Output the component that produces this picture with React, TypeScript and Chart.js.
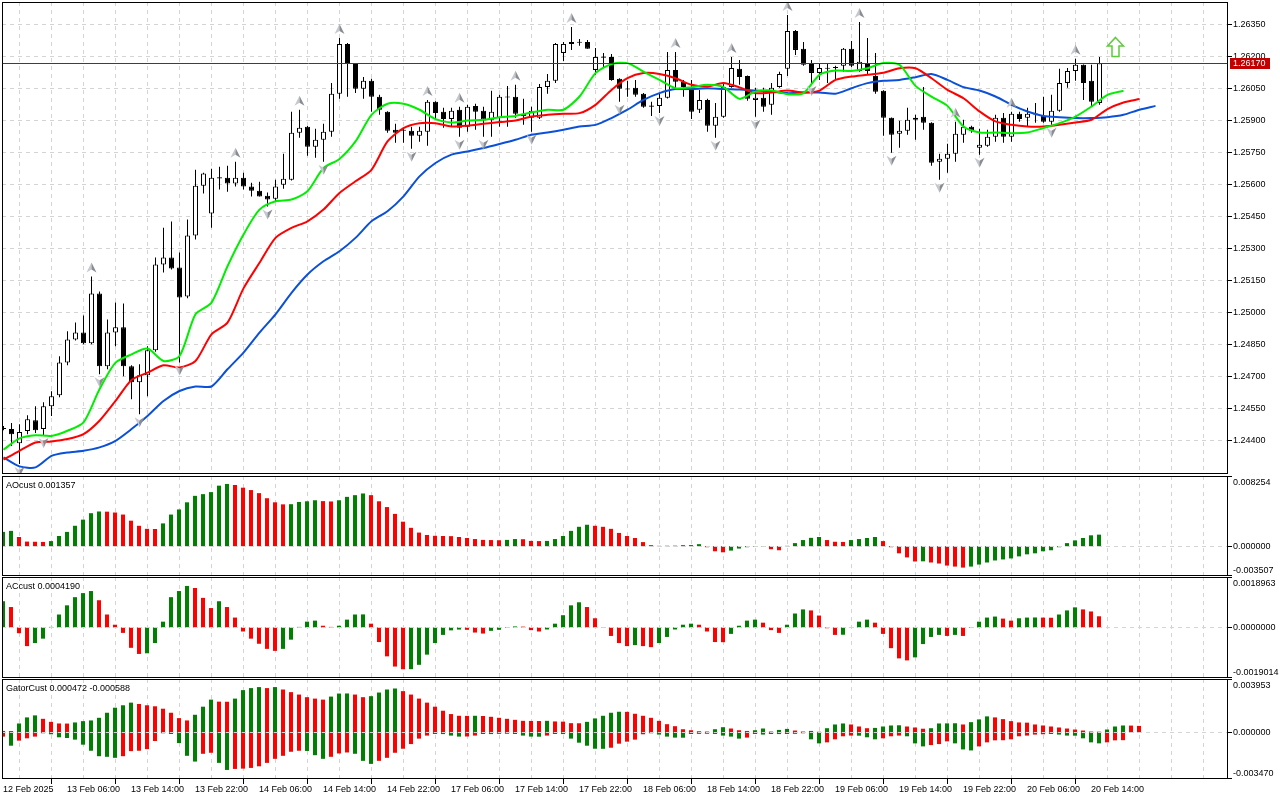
import React, { useEffect, useRef } from "react";
import { Chart, registerables } from "chart.js";

Chart.register(...registerables);

// ---------------- data ----------------
const X_LABELS = [
  "12 Feb 2025", "13 Feb 06:00", "13 Feb 14:00", "13 Feb 22:00", "14 Feb 06:00", "14 Feb 14:00",
  "14 Feb 22:00", "17 Feb 06:00", "17 Feb 14:00", "17 Feb 22:00", "18 Feb 06:00", "18 Feb 14:00",
  "18 Feb 22:00", "19 Feb 06:00", "19 Feb 14:00", "19 Feb 22:00", "20 Feb 06:00", "20 Feb 14:00",
];
const BARS_PER_LABEL = 8;

const PRICE_TICKS = [
  1.244, 1.2455, 1.247, 1.2485, 1.25, 1.2515, 1.253, 1.2545, 1.256, 1.2575, 1.259, 1.2605, 1.262, 1.2635,
];
const PRICE_MIN = 1.24241;
const PRICE_MAX = 1.26458;
const CURRENT_PRICE = 1.2617;

const OPEN = [
  1.24457, 1.24452, 1.24386, 1.24443, 1.24494, 1.24452, 1.24559, 1.24611, 1.24765, 1.24873,
  1.24906, 1.24855, 1.25089, 1.24747, 1.24906, 1.2493, 1.24747, 1.24672, 1.24705, 1.24822,
  1.25225, 1.25258, 1.25211, 1.25075, 1.25361, 1.25595, 1.25464, 1.25633, 1.25633, 1.25605,
  1.25633, 1.25591, 1.25572, 1.25548, 1.25534, 1.256, 1.25623, 1.25844, 1.25872, 1.25778,
  1.25811, 1.25848, 1.26027, 1.26261, 1.26167, 1.2605, 1.26088, 1.26013, 1.25942, 1.25858,
  1.25858, 1.25853, 1.2583, 1.25848, 1.25989, 1.25942, 1.25909, 1.25952, 1.25872, 1.2597,
  1.25947, 1.25905, 1.25914, 1.26013, 1.26013, 1.25933, 1.25914, 1.25914, 1.26059, 1.26088,
  1.26219, 1.26261, 1.2627, 1.2627, 1.26139, 1.262, 1.262, 1.26097, 1.2605, 1.26055,
  1.26027, 1.2597, 1.2597, 1.26008, 1.26139, 1.26083, 1.26059, 1.25952, 1.25998, 1.25877,
  1.25919, 1.26059, 1.26144, 1.26111, 1.25998, 1.26008, 1.25975, 1.26059, 1.26144, 1.26322,
  1.26238, 1.26167, 1.26125, 1.26148, 1.26153, 1.26158, 1.26238, 1.26134, 1.26172, 1.26111,
  1.26041, 1.25914, 1.25839, 1.25853, 1.25905, 1.25919, 1.25891, 1.25708, 1.25722, 1.25745,
  1.25834, 1.25872, 1.25773, 1.25783, 1.25825, 1.25914, 1.25825, 1.25933, 1.25914, 1.25933,
  1.25923, 1.25895, 1.25947, 1.26078, 1.26134, 1.26163, 1.26088, 1.25984,
];
const HIGH = [
  1.24466, 1.2448, 1.24475, 1.24517, 1.24559, 1.24578, 1.2463, 1.24794, 1.24911, 1.24953,
  1.24986, 1.25169, 1.25098, 1.24967, 1.25047, 1.25042, 1.24752, 1.24756, 1.24841, 1.25258,
  1.25398, 1.25427, 1.25281, 1.25436, 1.2567, 1.25656, 1.25675, 1.25684, 1.25689, 1.25708,
  1.25656, 1.25609, 1.25614, 1.25563, 1.25623, 1.25745, 1.25942, 1.25952, 1.25875, 1.25863,
  1.25886, 1.26078, 1.26289, 1.26266, 1.26172, 1.26106, 1.26097, 1.26022, 1.25945, 1.25886,
  1.25867, 1.25872, 1.25872, 1.25998, 1.25992, 1.25961, 1.25961, 1.25966, 1.25975, 1.2598,
  1.25966, 1.26041, 1.26022, 1.26064, 1.26069, 1.26003, 1.25966, 1.26073, 1.2612, 1.26266,
  1.2627, 1.26341, 1.26284, 1.2628, 1.26242, 1.26219, 1.26214, 1.261, 1.26088, 1.26092,
  1.2603, 1.25989, 1.26027, 1.26223, 1.26223, 1.26092, 1.26092, 1.26045, 1.26003, 1.25984,
  1.26078, 1.262, 1.26186, 1.26113, 1.26055, 1.26055, 1.26078, 1.2613, 1.26397, 1.26327,
  1.2627, 1.26186, 1.26172, 1.26172, 1.26158, 1.26242, 1.26275, 1.26364, 1.26289, 1.26219,
  1.26043, 1.25916, 1.259, 1.25961, 1.25928, 1.26059, 1.25893, 1.25745, 1.25792, 1.25895,
  1.25905, 1.25877, 1.25863, 1.25858, 1.25928, 1.25937, 1.25942, 1.25942, 1.25961, 1.25984,
  1.26013, 1.26022, 1.26144, 1.26148, 1.26191, 1.26165, 1.26163, 1.262,
];
const LOW = [
  1.24447, 1.24372, 1.24288, 1.24428, 1.24433, 1.24424, 1.24513, 1.24602, 1.24752, 1.24868,
  1.2485, 1.2485, 1.24709, 1.24733, 1.24841, 1.247, 1.24592, 1.24522, 1.24606, 1.24815,
  1.25188, 1.25202, 1.24765, 1.25066, 1.25342, 1.25558, 1.25398, 1.25577, 1.25567, 1.25591,
  1.25577, 1.25544, 1.25544, 1.25497, 1.2552, 1.25581, 1.2562, 1.2582, 1.25736, 1.25727,
  1.25708, 1.25825, 1.26003, 1.26013, 1.26031, 1.26003, 1.25942, 1.25928, 1.25844, 1.25797,
  1.25797, 1.25769, 1.25802, 1.25783, 1.25905, 1.25867, 1.25872, 1.25825, 1.25848, 1.25858,
  1.25825, 1.25825, 1.25872, 1.25872, 1.25914, 1.25881, 1.25848, 1.25909, 1.26027, 1.26078,
  1.26181, 1.26233, 1.26252, 1.26238, 1.26116, 1.26153, 1.26088, 1.25989, 1.26013, 1.26013,
  1.25961, 1.25923, 1.25937, 1.26005, 1.26045, 1.26013, 1.25909, 1.25937, 1.25848, 1.2582,
  1.25914, 1.26055, 1.26069, 1.25994, 1.25919, 1.25942, 1.25928, 1.26055, 1.26111, 1.26209,
  1.26158, 1.26078, 1.26092, 1.26078, 1.26092, 1.2613, 1.26153, 1.2613, 1.26116, 1.26027,
  1.2583, 1.2575, 1.25773, 1.25834, 1.25811, 1.25858, 1.25689, 1.25623, 1.25656, 1.25708,
  1.25797, 1.25844, 1.25741, 1.25778, 1.25802, 1.25797, 1.25802, 1.25895, 1.25872, 1.25891,
  1.25891, 1.25881, 1.25942, 1.26055, 1.26088, 1.25998, 1.2597, 1.25975,
];
const CLOSE = [
  1.24452, 1.24428, 1.24438, 1.24498, 1.24447, 1.24559, 1.24606, 1.24765, 1.24873, 1.24906,
  1.24855, 1.25089, 1.24747, 1.24906, 1.2493, 1.24747, 1.24672, 1.24705, 1.24822, 1.25225,
  1.25258, 1.25206, 1.2507, 1.25361, 1.25595, 1.25652, 1.25633, 1.25631, 1.25605, 1.25633,
  1.25591, 1.25572, 1.25544, 1.2553, 1.25591, 1.25628, 1.25844, 1.25867, 1.25778, 1.25811,
  1.25848, 1.26027, 1.26261, 1.26167, 1.2605, 1.26088, 1.26013, 1.25952, 1.25853, 1.25844,
  1.25853, 1.2583, 1.25853, 1.25989, 1.25937, 1.25909, 1.25947, 1.25867, 1.25966, 1.25942,
  1.25905, 1.25942, 1.26013, 1.2601, 1.25933, 1.25923, 1.25947, 1.26059, 1.26088, 1.26261,
  1.26261, 1.2627, 1.26268, 1.26238, 1.262, 1.26198, 1.26092, 1.2605, 1.26048, 1.26022,
  1.25966, 1.25968, 1.26008, 1.26139, 1.26083, 1.26059, 1.25942, 1.25998, 1.25877, 1.25919,
  1.26059, 1.26148, 1.26106, 1.26003, 1.26008, 1.25966, 1.26055, 1.2612, 1.26322, 1.26233,
  1.26163, 1.26125, 1.26148, 1.26146, 1.26148, 1.26238, 1.26158, 1.26177, 1.26134, 1.26036,
  1.25914, 1.25834, 1.25853, 1.25905, 1.25914, 1.25891, 1.25703, 1.25722, 1.25745, 1.25839,
  1.25872, 1.25853, 1.25788, 1.25825, 1.25914, 1.25825, 1.25933, 1.25909, 1.25933, 1.25931,
  1.25895, 1.25947, 1.26078, 1.26134, 1.26163, 1.26078, 1.25989, 1.2617,
];

// Alligator lines, read every LINE_STEP bars (they run past the last candle because they are shifted)
const LINE_STEP = 2;
const LIPS = [
  1.24355, 1.24408, 1.24423, 1.2442, 1.24444, 1.24483, 1.24639, 1.24764, 1.24803, 1.2483,
  1.24772, 1.24795, 1.24991, 1.25046, 1.25217, 1.25366, 1.25483, 1.25522, 1.2553, 1.25569,
  1.25678, 1.25721, 1.25803, 1.25928, 1.2598, 1.2598, 1.25952, 1.25908, 1.25892, 1.25901,
  1.25905, 1.25917, 1.25923, 1.25939, 1.25952, 1.25952, 1.26014, 1.26124, 1.26166, 1.26171,
  1.26131, 1.26092, 1.26053, 1.26058, 1.26069, 1.26058, 1.26003, 1.26037, 1.26042, 1.26025,
  1.2603, 1.26116, 1.26136, 1.26134, 1.26147, 1.26171, 1.26163, 1.26064, 1.26014, 1.2597,
  1.25873, 1.25845, 1.25845, 1.25842, 1.25845, 1.25866, 1.25889, 1.2592, 1.25967, 1.26022,
  1.26041,
];
const TEETH = [
  1.24308, 1.2435, 1.24389, 1.24394, 1.24405, 1.24428, 1.24491, 1.24584, 1.24683, 1.24717,
  1.24752, 1.24741, 1.24772, 1.24897, 1.24952, 1.25113, 1.25233, 1.2535, 1.25397, 1.25428,
  1.25483, 1.25561, 1.25616, 1.2567, 1.25803, 1.25866, 1.25889, 1.25889, 1.25873, 1.25877,
  1.25886, 1.25894, 1.25901, 1.2592, 1.25928, 1.25933, 1.25936, 1.25975, 1.26045, 1.261,
  1.26124, 1.2612, 1.261, 1.26069, 1.26061, 1.26077, 1.26057, 1.2603, 1.26033, 1.26042,
  1.26033, 1.26042, 1.26092, 1.26108, 1.26116, 1.26126, 1.26147, 1.26147, 1.261, 1.26045,
  1.26006, 1.25944, 1.25897, 1.25881, 1.25873, 1.25873, 1.25881, 1.25892, 1.25905, 1.25955,
  1.25986, 1.26002,
];
const JAW = [
  1.24319, 1.24277, 1.24272, 1.24326, 1.24342, 1.2435, 1.24366, 1.24397, 1.24452, 1.24514,
  1.24584, 1.24631, 1.24652, 1.24652, 1.24733, 1.24811, 1.24905, 1.24991, 1.25092, 1.25178,
  1.2524, 1.25287, 1.2535, 1.25428, 1.25475, 1.25545, 1.25639, 1.25702, 1.25741, 1.25756,
  1.25772, 1.25791, 1.25811, 1.25834, 1.25845, 1.25858, 1.25873, 1.25881, 1.25913, 1.25952,
  1.25998, 1.2603, 1.26049, 1.26049, 1.26053, 1.26049, 1.26047, 1.26042, 1.26037, 1.2603,
  1.26033, 1.26033, 1.26027, 1.26053, 1.26077, 1.26088, 1.26092, 1.26105, 1.2612, 1.26092,
  1.26058, 1.26042, 1.26014, 1.25975, 1.25944, 1.25923, 1.25917, 1.25913, 1.25913, 1.25917,
  1.25928, 1.25952, 1.2597,
];

const FRACTAL_UP_BARS = [11, 29, 37, 42, 53, 57, 64, 71, 84, 91, 98, 107, 119, 126, 134];
const FRACTAL_DOWN_BARS = [2, 5, 12, 17, 22, 33, 40, 51, 57, 60, 66, 77, 82, 89, 94, 101, 111, 117, 122, 131];
const SIGNAL_BAR = 139;
const SIGNAL_PRICE = 1.26247;

const AO = [
  0.00168, 0.0018, 0.00108, 0.00054, 0.00052, 0.0005, 0.0006, 0.0012, 0.00168, 0.0024,
  0.00312, 0.00388, 0.00408, 0.00406, 0.00396, 0.00372, 0.003, 0.0024, 0.00204, 0.00202,
  0.00268, 0.00372, 0.00432, 0.00516, 0.00592, 0.00612, 0.00636, 0.00712, 0.00732, 0.0072,
  0.00688, 0.0066, 0.00624, 0.00564, 0.00516, 0.00492, 0.00494, 0.0052, 0.00528, 0.0054,
  0.0053, 0.00526, 0.0054, 0.0058, 0.006, 0.0062, 0.006, 0.00528, 0.0046, 0.0038,
  0.00288, 0.00216, 0.0016, 0.00132, 0.00122, 0.0012, 0.00118, 0.00108, 0.00096, 0.00084,
  0.00074, 0.00072, 0.0007, 0.00074, 0.00084, 0.00082, 0.00062, 0.0006, 0.00062, 0.00084,
  0.0012, 0.0018, 0.00228, 0.00252, 0.0024, 0.00228, 0.00204, 0.00156, 0.0012, 0.00096,
  0.00048, 0.00012, 0.00004, 0.00005, 0.00006, 0.00012, 0.00013, 0.00024, -0.00012, -0.0006,
  -0.00072, -0.00052, -0.00028, -0.00012, -0.00006, -0.00004, -0.00036, -0.00048, 0.00004, 0.00036,
  0.00072, 0.00098, 0.00108, 0.00072, 0.00052, 0.0005, 0.00072, 0.00084, 0.00096, 0.00108,
  0.0006, -0.00012, -0.00084, -0.00132, -0.0018, -0.00178, -0.00192, -0.00204, -0.00228, -0.0024,
  -0.00252, -0.0024, -0.00216, -0.00192, -0.00168, -0.00156, -0.00144, -0.0012, -0.00096, -0.00084,
  -0.0006, -0.00048, -0.00012, 0.00036, 0.00068, 0.00096, 0.00128, 0.001357,
];
const AO_MAX = 0.008254;
const AO_MIN = -0.003507;

const AC = [
  0.000985, 0.000767, -0.000217, -0.000703, -0.000588, -0.000422, 0.00002, 0.000486, 0.000831, 0.001138,
  0.001291, 0.001368, 0.001023, 0.000486, 0.000102, -0.000205, -0.000767, -0.000997, -0.000972, -0.000588,
  0.000217, 0.001138, 0.001368, 0.00156, 0.001483, 0.001112, 0.000729, 0.000985, 0.000767, 0.000371,
  -0.000153, -0.000422, -0.000614, -0.000806, -0.000882, -0.000806, -0.00046, 0.00002, 0.000217, 0.000256,
  0.000064, 0.00002, 0.000064, 0.000294, 0.000486, 0.00049, 0.000141, -0.00055, -0.001087, -0.001471,
  -0.001573, -0.00157, -0.001406, -0.001023, -0.000588, -0.000281, -0.00011, -0.00008, -0.00009, -0.000192,
  -0.00023, -0.000128, -0.00009, -0.00002, 0.000038, 0.00003, -0.000102, -0.000153, -0.000077, 0.000141,
  0.00046, 0.000831, 0.000946, 0.000767, 0.000345, 0.00001, -0.00032, -0.000588, -0.000703, -0.000665,
  -0.000703, -0.000741, -0.000588, -0.000358, -0.000077, 0.000102, 0.000141, 0.000102, -0.000153, -0.00055,
  -0.000555, -0.000243, 0.000064, 0.000256, 0.000294, 0.000179, -0.000102, -0.000205, 0.000102, 0.000524,
  0.000678, 0.00064, 0.000447, -0.00003, -0.000281, -0.000275, 0.00001, 0.000217, 0.000294, 0.000179,
  -0.000243, -0.00078, -0.001164, -0.00124, -0.001125, -0.000626, -0.000358, -0.000281, -0.00032, -0.000281,
  -0.00032, -0.00002, 0.000217, 0.000371, 0.000409, 0.000332, 0.000256, 0.000345, 0.000371, 0.000375,
  0.00037, 0.000365, 0.000486, 0.00064, 0.000755, 0.000678, 0.000601, 0.000419,
];
const AC_MAX = 0.0018963;
const AC_MIN = -0.0019014;

const GATOR_UPPER = [
  0.000098, 0.00009, 0.000653, 0.001103, 0.001253, 0.000998, 0.000773, 0.000653, 0.000645, 0.000728,
  0.000825, 0.000878, 0.001073, 0.001448, 0.001823, 0.002003, 0.002198, 0.0021, 0.002003, 0.001928,
  0.001748, 0.001448, 0.00105, 0.000878, 0.001298, 0.001898, 0.002423, 0.002273, 0.002265, 0.002498,
  0.003128, 0.003278, 0.003353, 0.003278, 0.003353, 0.003173, 0.002978, 0.002798, 0.002603, 0.002498,
  0.002423, 0.002648, 0.002873, 0.00288, 0.002798, 0.002603, 0.002678, 0.002948, 0.003173, 0.003248,
  0.003053, 0.002798, 0.002498, 0.002198, 0.001898, 0.001598, 0.00135, 0.001223, 0.001215, 0.001223,
  0.001208, 0.001148, 0.001073, 0.000998, 0.000923, 0.000848, 0.00084, 0.000833, 0.000848, 0.000803,
  0.000788, 0.000675, 0.000668, 0.000773, 0.001028, 0.001223, 0.001448, 0.001523, 0.001515, 0.001373,
  0.001223, 0.001073, 0.000848, 0.0006, 0.00045, 0.000225, 0.00015, 0.000075, 0.000053, 0.000225,
  0.000375, 0.000278, 0.00015, 0.000098, 0.00015, 0.000278, 0.000053, 0.000173, 0.000248, 0.000128,
  0.000053, 0.000098, 0.000038, 0.0003, 0.000578, 0.000653, 0.000578, 0.000428, 0.0003, 0.000323,
  0.000428, 0.000503, 0.000518, 0.000428, 0.000353, 0.000263, 0.0003, 0.000653, 0.00066, 0.000668,
  0.000578, 0.00075, 0.000953, 0.001178, 0.001103, 0.000975, 0.000825, 0.000728, 0.000713, 0.000578,
  0.000503, 0.000428, 0.000353, 0.000278, 0.000203, 0.000128, 0.000053, 0.000045, 0.000203, 0.000428,
  0.000503, 0.000495, 0.000472,
];
const GATOR_LOWER = [
  -0.000323, -0.000998, -0.000623, -0.00045, -0.000323, -0.000075, -0.00015, -0.000375, -0.000428, -0.000548,
  -0.000923, -0.001373, -0.001778, -0.001823, -0.001898, -0.001778, -0.001403, -0.001373, -0.001253, -0.000653,
  -0.000075, -0.000128, -0.000803, -0.001748, -0.002175, -0.001598, -0.001523, -0.002273, -0.002798, -0.002723,
  -0.0027, -0.002648, -0.002528, -0.002273, -0.001973, -0.001748, -0.001448, -0.001373, -0.001388, -0.001703,
  -0.001973, -0.001823, -0.001575, -0.0015, -0.001598, -0.002123, -0.002348, -0.002123, -0.001898, -0.001523,
  -0.001223, -0.000878, -0.000473, -0.000248, -0.000128, -0.000135, -0.000248, -0.000323, -0.000315, -0.000248,
  -0.000128, -0.000135, -0.00012, -0.000113, -0.000128, -0.000248, -0.000323, -0.00033, -0.000248, -0.000128,
  -0.000135, -0.000473, -0.000773, -0.000998, -0.001223, -0.00123, -0.001148, -0.000848, -0.000698, -0.000548,
  -0.00015, -0.000075, -0.000173, -0.000323, -0.000398, -0.000405, -0.000128, -0.00012, -0.000113, -0.000128,
  -0.000248, -0.000323, -0.000473, -0.000398, -0.000128, -0.000173, -0.000128, -0.000135, -0.000128, -0.00012,
  -0.000075, -0.000525, -0.000825, -0.00075, -0.000525, -0.0003, -0.000248, -0.000255, -0.000375, -0.000525,
  -0.00045, -0.0003, -0.000248, -0.0003, -0.000825, -0.00105, -0.000953, -0.000878, -0.000675, -0.000825,
  -0.001275, -0.00135, -0.00105, -0.00075, -0.0006, -0.000593, -0.000525, -0.0003, -0.000248, -0.000173,
  -0.00015, -0.000128, -0.000173, -0.000248, -0.000255, -0.00045, -0.00075, -0.000825, -0.00075, -0.0006,
  -0.000588,
];
const GATOR_MAX = 0.003953;
const GATOR_MIN = -0.00347;

// ---------------- style / layout ----------------
const GRID = "#d4d4d4";
const GREEN = "#008000";
const RED = "#ff0000";
const LIPS_COLOR = "#00ee00";
const TEETH_COLOR = "#ff0000";
const JAW_COLOR = "#0a50d8";
const PRICE_LINE = "#d00000";
const PRICE_TAG = "#c40000";
const FONT_FAMILY = '"Liberation Sans", Arial, sans-serif';
const FONT_SIZE = 9;
const FONT_CSS = `${FONT_SIZE}px ${FONT_FAMILY}`;

const W = 1280;
const PLOT_LEFT = 2;
const AXIS_W = 52;
const BAR_PX = 8;
const SPAN = (W - AXIS_W - PLOT_LEFT) / BAR_PX;
const X_MIN_MAIN = -0.1875;
const X_MIN_PANEL = -0.125;

Chart.defaults.font.family = FONT_FAMILY;
Chart.defaults.font.size = FONT_SIZE;
Chart.defaults.color = "#000";

function trendColors(vals: number[], first: string, useAbs: boolean): string[] {
  return vals.map((v, i) => {
    if (i === 0) return first;
    const a = useAbs ? Math.abs(v) : v;
    const b = useAbs ? Math.abs(vals[i - 1]) : vals[i - 1];
    return a > b ? GREEN : RED;
  });
}

function hasLabel(v: number): boolean {
  return v % BARS_PER_LABEL === 0 && v / BARS_PER_LABEL < X_LABELS.length;
}

function xScale(xMin: number, showLabels: boolean): any {
  return {
    type: "linear",
    min: xMin,
    max: xMin + SPAN,
    offset: false,
    afterBuildTicks: (s: any) => {
      const t: any[] = [];
      for (let v = 0; v <= xMin + SPAN; v += BARS_PER_LABEL / 2) t.push({ value: v });
      s.ticks = t;
    },
    afterFit: (s: any) => {
      s.height = showLabels ? 21 : 0;
      s.paddingLeft = 0;
      s.paddingRight = 0;
    },
    grid: {
      display: true,
      color: (c: any) => (c.tick && c.tick.value === 0 ? "rgba(0,0,0,0)" : GRID),
      lineWidth: 1,
      drawTicks: showLabels,
      tickLength: 5,
      tickWidth: 1,
      tickBorderDash: [],
      tickColor: (c: any) => (c.tick && hasLabel(c.tick.value) ? "#000" : "rgba(0,0,0,0)"),
    },
    border: { display: false, dash: [4, 4] },
    ticks: {
      display: showLabels,
      autoSkip: false,
      maxRotation: 0,
      minRotation: 0,
      align: "start",
      padding: 0,
      color: "#000",
      font: { family: FONT_FAMILY, size: FONT_SIZE },
      callback: (v: number) => (hasLabel(v) ? X_LABELS[v / BARS_PER_LABEL] : ""),
    },
  };
}

function panelY(min: number, max: number): any {
  return {
    type: "linear",
    position: "right",
    min,
    max,
    afterFit: (s: any) => {
      s.width = AXIS_W;
      s.paddingTop = 0;
      s.paddingBottom = 0;
    },
    grid: { display: false },
    border: { display: false },
    ticks: { display: false },
  };
}

function drawFractal(ctx: CanvasRenderingContext2D, x: number, y: number, up: boolean) {
  ctx.save();
  ctx.translate(x, y);
  if (!up) ctx.scale(1, -1);
  ctx.beginPath();
  ctx.moveTo(0, -5);
  ctx.lineTo(-5, 5);
  ctx.lineTo(0, 2);
  ctx.closePath();
  ctx.fillStyle = "#c4c8d0";
  ctx.fill();
  ctx.beginPath();
  ctx.moveTo(0, -5);
  ctx.lineTo(5, 5);
  ctx.lineTo(0, 2);
  ctx.closePath();
  ctx.fillStyle = "#8a8c90";
  ctx.fill();
  ctx.restore();
}

function drawSignal(ctx: CanvasRenderingContext2D, x: number, y: number) {
  ctx.save();
  ctx.beginPath();
  ctx.moveTo(x, y - 9.5);
  ctx.lineTo(x + 8, y - 1);
  ctx.lineTo(x + 3.5, y - 1);
  ctx.lineTo(x + 3.5, y + 9.5);
  ctx.lineTo(x - 3.5, y + 9.5);
  ctx.lineTo(x - 3.5, y - 1);
  ctx.lineTo(x - 8, y - 1);
  ctx.closePath();
  ctx.fillStyle = "#ffffff";
  ctx.fill();
  ctx.strokeStyle = "#5ccc3a";
  ctx.lineWidth = 1.5;
  ctx.stroke();
  ctx.restore();
}

type PanelCfg = {
  main?: boolean;
  title?: string;
  zeroLine?: boolean;
  edge?: { top: string; zero: string; bottom: string };
};

function panelPlugin(cfg: PanelCfg): any {
  return {
    id: "mtPanel",
    afterDatasetsDraw(chart: any) {
      const { ctx, chartArea: a, scales } = chart;
      const xs = scales.x;
      const ys = scales.y;
      ctx.save();
      ctx.beginPath();
      ctx.rect(a.left, a.top, a.right - a.left, a.bottom - a.top);
      ctx.clip();
      if (cfg.zeroLine) {
        const y0 = Math.round(ys.getPixelForValue(0)) + 0.5;
        ctx.strokeStyle = GRID;
        ctx.lineWidth = 1;
        ctx.setLineDash([4, 4]);
        ctx.beginPath();
        ctx.moveTo(a.left, y0);
        ctx.lineTo(a.right, y0);
        ctx.stroke();
        ctx.setLineDash([]);
      }
      if (cfg.main) {
        const py = Math.round(ys.getPixelForValue(CURRENT_PRICE)) + 0.5;
        ctx.strokeStyle = PRICE_LINE;
        ctx.lineWidth = 1;
        ctx.beginPath();
        ctx.moveTo(a.left, py);
        ctx.lineTo(a.right, py);
        ctx.stroke();
        FRACTAL_UP_BARS.forEach((i) =>
          drawFractal(ctx, xs.getPixelForValue(i), ys.getPixelForValue(HIGH[i]) - 9, true)
        );
        FRACTAL_DOWN_BARS.forEach((i) =>
          drawFractal(ctx, xs.getPixelForValue(i), ys.getPixelForValue(LOW[i]) + 8, false)
        );
        drawSignal(ctx, xs.getPixelForValue(SIGNAL_BAR), ys.getPixelForValue(SIGNAL_PRICE));
      }
      ctx.restore();
    },
    afterDraw(chart: any) {
      const { ctx, chartArea: a, scales } = chart;
      const ys = scales.y;
      ctx.save();
      ctx.strokeStyle = "#000";
      ctx.lineWidth = 1;
      ctx.strokeRect(a.left + 0.5, a.top + 0.5, a.right - a.left - 1, a.bottom - a.top - 1);
      ctx.font = FONT_CSS;
      ctx.fillStyle = "#000";
      if (cfg.title) {
        ctx.textAlign = "left";
        ctx.textBaseline = "alphabetic";
        ctx.fillText(cfg.title, a.left + 4, a.top + 12);
      }
      if (cfg.edge) {
        const x = a.right + 5;
        const y0 = Math.round(ys.getPixelForValue(0)) + 0.5;
        ctx.beginPath();
        [a.top + 0.5, y0, a.bottom - 0.5].forEach((y) => {
          ctx.moveTo(a.right, y);
          ctx.lineTo(a.right + 4, y);
        });
        ctx.stroke();
        ctx.textAlign = "left";
        ctx.textBaseline = "alphabetic";
        ctx.fillText(cfg.edge.top, x, a.top + 9);
        ctx.fillText(cfg.edge.bottom, x, a.bottom - 3);
        ctx.textBaseline = "middle";
        ctx.fillText(cfg.edge.zero, x, y0);
      }
      if (cfg.main) {
        const py = Math.round(ys.getPixelForValue(CURRENT_PRICE));
        ctx.fillStyle = PRICE_TAG;
        ctx.fillRect(a.right + 2, py - 5, 40, 11);
        ctx.fillStyle = "#fff";
        ctx.textAlign = "left";
        ctx.textBaseline = "middle";
        ctx.fillText(CURRENT_PRICE.toFixed(5), a.right + 5, py + 0.5);
      }
      ctx.restore();
    },
  };
}

const COMMON: any = {
  animation: false,
  responsive: false,
  maintainAspectRatio: false,
  devicePixelRatio: 1,
  events: [],
  plugins: { legend: { display: false }, tooltip: { enabled: false } },
};

function lineDs(vals: number[], color: string, order: number): any {
  return {
    type: "line",
    data: vals.map((v, k) => ({ x: k * LINE_STEP, y: v })),
    borderColor: color,
    borderWidth: 2,
    pointRadius: 0,
    tension: 0.25,
    fill: false,
    order,
  };
}

function histDs(vals: number[], colors: string[]): any {
  return {
    type: "bar",
    data: vals.map((v, i) => ({ x: i, y: v })),
    backgroundColor: colors,
    borderWidth: 0,
    barThickness: 4,
    grouped: false,
    inflateAmount: 0,
  };
}

function mainConfig(): any {
  const minBody = 0.00005;
  const bodies = OPEN.map((o, i) => {
    const c = CLOSE[i];
    const lo = Math.min(o, c);
    const hi = Math.max(o, c);
    const pad = hi - lo < minBody ? (minBody - (hi - lo)) / 2 : 0;
    return { x: i, y: [lo - pad, hi + pad] };
  });
  const bodyColors = OPEN.map((o, i) => (CLOSE[i] >= o ? "#ffffff" : "#000000"));
  const wicks = HIGH.map((h, i) => ({ x: i, y: [LOW[i], h] }));
  return {
    type: "bar",
    data: {
      datasets: [
        lineDs(LIPS, LIPS_COLOR, 0),
        lineDs(TEETH, TEETH_COLOR, 1),
        lineDs(JAW, JAW_COLOR, 2),
        {
          type: "bar",
          data: bodies,
          backgroundColor: bodyColors,
          borderColor: "#000",
          borderWidth: 1,
          borderSkipped: false,
          barThickness: 5,
          grouped: false,
          inflateAmount: 0,
          order: 3,
        },
        {
          type: "bar",
          data: wicks,
          backgroundColor: "#000",
          borderWidth: 0,
          barThickness: 1,
          grouped: false,
          inflateAmount: 0,
          order: 4,
        },
      ],
    },
    options: {
      ...COMMON,
      layout: { padding: { left: PLOT_LEFT, right: 0, top: 2, bottom: 1 } },
      scales: {
        x: xScale(X_MIN_MAIN, false),
        y: {
          type: "linear",
          position: "right",
          min: PRICE_MIN,
          max: PRICE_MAX,
          afterBuildTicks: (s: any) => {
            s.ticks = PRICE_TICKS.map((v) => ({ value: v }));
          },
          afterFit: (s: any) => {
            s.width = AXIS_W;
            s.paddingTop = 0;
            s.paddingBottom = 0;
          },
          grid: {
            color: GRID,
            drawTicks: true,
            tickLength: 4,
            tickColor: "#000",
            tickWidth: 1,
            tickBorderDash: [],
          },
          border: { display: false, dash: [4, 4] },
          ticks: {
            color: "#000",
            padding: 1,
            font: { family: FONT_FAMILY, size: FONT_SIZE },
            callback: (v: number) => Number(v).toFixed(5),
          },
        },
      },
    },
    plugins: [panelPlugin({ main: true })],
  };
}

function panelConfig(datasets: any[], min: number, max: number, cfg: PanelCfg, pad: any, showX: boolean): any {
  return {
    type: "bar",
    data: { datasets },
    options: {
      ...COMMON,
      layout: { padding: { left: PLOT_LEFT, right: 0, ...pad } },
      scales: { x: xScale(X_MIN_PANEL, showX), y: panelY(min, max) },
    },
    plugins: [panelPlugin(cfg)],
  };
}

export default function App() {
  const mainRef = useRef<HTMLCanvasElement>(null);
  const aoRef = useRef<HTMLCanvasElement>(null);
  const acRef = useRef<HTMLCanvasElement>(null);
  const gatorRef = useRef<HTMLCanvasElement>(null);

  useEffect(() => {
    const charts: Chart[] = [];
    charts.push(new Chart(mainRef.current as HTMLCanvasElement, mainConfig()));
    charts.push(
      new Chart(
        aoRef.current as HTMLCanvasElement,
        panelConfig(
          [histDs(AO, trendColors(AO, GREEN, false))],
          AO_MIN,
          AO_MAX,
          {
            title: `AOcust ${AO[AO.length - 1].toFixed(6)}`,
            zeroLine: true,
            edge: { top: AO_MAX.toFixed(6), zero: (0).toFixed(6), bottom: AO_MIN.toFixed(6) },
          },
          { top: 1, bottom: 1 },
          false
        )
      )
    );
    charts.push(
      new Chart(
        acRef.current as HTMLCanvasElement,
        panelConfig(
          [histDs(AC, trendColors(AC, GREEN, false))],
          AC_MIN,
          AC_MAX,
          {
            title: `ACcust ${AC[AC.length - 1].toFixed(7)}`,
            zeroLine: true,
            edge: { top: AC_MAX.toFixed(7), zero: (0).toFixed(7), bottom: AC_MIN.toFixed(7) },
          },
          { top: 0, bottom: 1 },
          false
        )
      )
    );
    charts.push(
      new Chart(
        gatorRef.current as HTMLCanvasElement,
        panelConfig(
          [
            histDs(GATOR_UPPER, trendColors(GATOR_UPPER, RED, true)),
            histDs(GATOR_LOWER, trendColors(GATOR_LOWER, RED, true)),
          ],
          GATOR_MIN,
          GATOR_MAX,
          {
            title: `GatorCust ${GATOR_UPPER[GATOR_UPPER.length - 1].toFixed(6)} ${GATOR_LOWER[
              GATOR_LOWER.length - 1
            ].toFixed(6)}`,
            zeroLine: true,
            edge: { top: GATOR_MAX.toFixed(6), zero: (0).toFixed(6), bottom: GATOR_MIN.toFixed(6) },
          },
          { top: 1, bottom: 0 },
          true
        )
      )
    );
    return () => charts.forEach((c) => c.destroy());
  }, []);

  const cv = (top: number, h: number): React.CSSProperties => ({
    position: "absolute",
    left: 0,
    top,
    width: W,
    height: h,
    display: "block",
  });

  return (
    <div style={{ position: "fixed", left: 0, top: 0, width: W, height: 800, background: "#fff", overflow: "hidden" }}>
      <canvas ref={mainRef} width={W} height={475} style={cv(0, 475)} />
      <canvas ref={aoRef} width={W} height={102} style={cv(475, 102)} />
      <canvas ref={acRef} width={W} height={102} style={cv(577, 102)} />
      <canvas ref={gatorRef} width={W} height={122} style={cv(678, 122)} />
    </div>
  );
}
